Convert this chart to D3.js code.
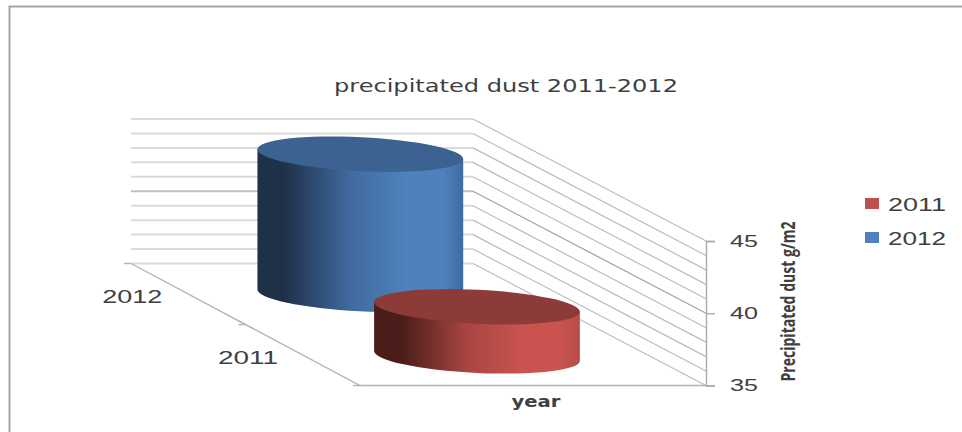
<!DOCTYPE html>
<html>
<head>
<meta charset="utf-8">
<script src="https://cdn.jsdelivr.net/npm/d3@7"></script>
<style>
html,body{margin:0;padding:0;background:#fff;}
svg{display:block;}
text{font-family:"DejaVu Sans",sans-serif;fill:#404040;}
</style>
</head>
<body>
<svg id="chart" width="962" height="432"></svg>
<script>
// Chart content
const chartTitle = "precipitated dust 2011-2012";
const valueAxisTitle = "Precipitated dust g/m2";
const depthAxisTitle = "year";
const years = ["2012", "2011"];          // back to front
const dustValues = [44.7, 38.4];         // g/m2, same order as years
const legendYears = ["2011", "2012"];
const valueTicks = [35, 40, 45];
const gridValues = d3.range(35, 46);

const palette = {
  "2011": {dark:"#4a1c1a", mid:"#a84543", light:"#c9534f", edge:"#b84c49", top:"#8c3b38", key:"#c0504d"},
  "2012": {dark:"#1f3149", mid:"#3f6a9e", light:"#4f81bd", edge:"#3f6c9f", top:"#3b6290", key:"#4f81bd"}
};

const svg = d3.select("#chart");
const defs = svg.append("defs");

// Oblique floor: a depth of 0 is the back wall, 1 is the front edge
const y = d3.scaleLinear().domain([35, 45]).range([385.5, 241]);
const floorLeft = d3.scaleLinear().domain([0, 1]).range([131, 360]);
const floorRight = d3.scaleLinear().domain([0, 1]).range([473, 706]);
const depthDrop = d3.scaleLinear().domain([0, 1]).range([-122, 0]);
const depth = d3.scaleBand().domain(years).range([0, 1.01]);
const depthMid = yr => depth(yr) + depth.bandwidth() / 2;

const sansWide = '"Liberation Sans",sans-serif';

// Fixed-width text, stretched the way the chart's wide lettering is
function label(parent, str, x, yPos, size, width, opts = {}) {
  return parent.append("text")
    .attr("x", x).attr("y", yPos)
    .attr("font-size", size)
    .attr("text-anchor", opts.anchor || "middle")
    .attr("font-weight", opts.weight || "normal")
    .attr("textLength", width)
    .attr("lengthAdjust", "spacingAndGlyphs")
    .text(str);
}

// Frame around the chart area
svg.append("path")
  .attr("d", "M9.5,432V6.5H962")
  .attr("fill", "none").attr("stroke", "#a6a6a6").attr("stroke-width", 2);

// Back wall and side wall grid
const grid = svg.append("g").attr("fill", "none");
grid.selectAll("path.back").data(gridValues).join("path")
  .attr("class", "back")
  .attr("stroke", d => d === 40 ? "#c0c0c0" : "#dadada")
  .attr("stroke-width", 2)
  .attr("d", d => {
    const yb = y(d) + depthDrop(0);
    return `M${floorLeft(0)},${yb}H${floorRight(0)}`;
  });
grid.selectAll("path.side").data(gridValues).join("path")
  .attr("class", "side")
  .attr("stroke", d => d === 40 ? "#a0a0a0" : "#bcbcbc")
  .attr("stroke-width", 1.2)
  .attr("d", d => `M${floorRight(0)},${y(d) + depthDrop(0)}L${floorRight(1)},${y(d)}`);

// Floor edges
const floorEdge = svg.append("g").attr("fill", "none").attr("stroke", "#b4b4b4").attr("stroke-width", 1.4);
floorEdge.append("path")
  .attr("d", `M${floorLeft(0)},${y(35) + depthDrop(0)}L${floorLeft(1)},${y(35)}H${floorRight(1)}`);
floorEdge.selectAll("path.tick").data([0, 0.5, 1]).join("path")
  .attr("class", "tick")
  .attr("d", d => {
    const px = floorLeft(d), py = y(35) + depthDrop(d);
    return `M${px},${py}h-7`;
  });

// Cylinders, drawn back to front
const radiusX = 103, radiusY = 17, tilt = 2.8;
const tiltRad = tilt * Math.PI / 180;
const data = years.map((yr, i) => ({year: yr, value: dustValues[i]}));

data.forEach(d => {
  const t = depthMid(d.year);
  const cx = (floorLeft(t) + floorRight(t)) / 2;
  const base = y(35) + depthDrop(t);
  const top = base - (y(35) - y(d.value));
  const ex = radiusX * Math.cos(tiltRad), ey = radiusX * Math.sin(tiltRad);
  const c = palette[d.year];

  const gradId = "shade" + d.year;
  const grad = defs.append("linearGradient").attr("id", gradId)
    .attr("x1", 0).attr("x2", 1).attr("y1", 0).attr("y2", 0);
  [[0, c.dark], [0.13, c.dark], [0.45, c.mid], [0.72, c.light], [0.9, c.light], [1, c.edge]]
    .forEach(([o, col]) => grad.append("stop").attr("offset", o).attr("stop-color", col));

  const g = svg.append("g");
  g.append("path")
    .attr("fill", `url(#${gradId})`)
    .attr("d", `M${cx - ex},${top - ey}` +
      `L${cx - ex},${base - ey}` +
      `A${radiusX},${radiusY} ${tilt} 0 0 ${cx + ex},${base + ey}` +
      `L${cx + ex},${top + ey}Z`);
  g.append("ellipse")
    .attr("cx", cx).attr("cy", top)
    .attr("rx", radiusX).attr("ry", radiusY)
    .attr("transform", `rotate(${tilt} ${cx} ${top})`)
    .attr("fill", c.top);
});

// Value axis on the right
const axisG = svg.append("g")
  .attr("transform", `translate(${floorRight(1)},0)`)
  .call(d3.axisRight(y).tickValues(valueTicks).tickSize(9).tickPadding(15).tickFormat(d3.format("d")));
axisG.select(".domain").attr("stroke", "#aaaaaa").attr("stroke-width", 1.4);
axisG.selectAll(".tick line").attr("stroke", "#aaaaaa").attr("stroke-width", 1.4);
axisG.selectAll(".tick text")
  .attr("font-size", 17)
  .attr("text-anchor", "start")
  .attr("textLength", 28)
  .attr("lengthAdjust", "spacingAndGlyphs")
  .style("font-family", sansWide)
  .style("fill", "#404040");

// Depth axis labels
data.forEach(d => {
  const t = depthMid(d.year);
  label(svg, d.year, floorLeft(t) - 56.5, y(35) + depthDrop(t) + 8.5, 19, 60)
    .style("font-family", sansWide);
});

// Titles
label(svg, chartTitle, 506, 92, 17, 344);
label(svg, depthAxisTitle, 536, 407, 15, 49, {weight: "bold"});
const rot = svg.append("g").attr("transform", "translate(795,301.5) rotate(-90)");
label(rot, valueAxisTitle, 0, 0, 19, 160, {weight: "bold"})
  .style("font-family", '"Open Sans",sans-serif');

// Legend
const legend = svg.append("g");
legendYears.forEach((yr, i) => {
  const rowY = 203.5 + i * 34;
  legend.append("rect")
    .attr("x", 865).attr("y", rowY - 5.5)
    .attr("width", 14).attr("height", 11)
    .attr("fill", palette[yr].key);
  label(legend, yr, 888, rowY + 7, 19, 58, {anchor: "start"})
    .style("font-family", sansWide);
});
</script>
</body>
</html>
